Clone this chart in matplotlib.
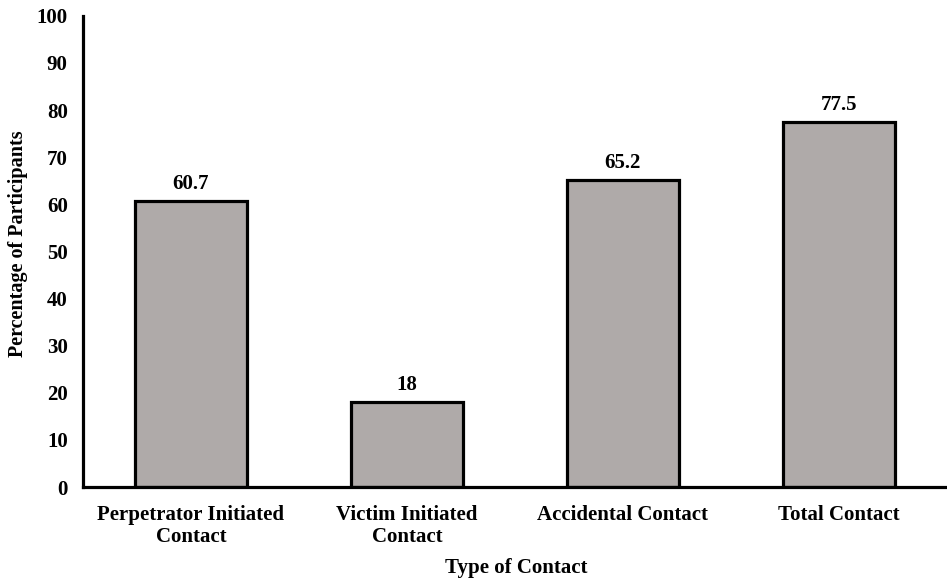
import matplotlib
matplotlib.use("Agg")
import matplotlib.pyplot as plt

categories = ["Perpetrator Initiated\nContact", "Victim Initiated\nContact", "Accidental Contact", "Total Contact"]
values = [60.7, 18, 65.2, 77.5]
value_labels = ["60.7", "18", "65.2", "77.5"]
yticks = [0, 10, 20, 30, 40, 50, 60, 70, 80, 90, 100]

plt.rcParams['font.family'] = ['Liberation Serif', 'DejaVu Serif']
plt.rcParams['font.weight'] = 'bold'

FS = 15
W, H = 947, 584

fig = plt.figure(figsize=(W / 100, H / 100), dpi=100)
ax = fig.add_axes([0.0876, 0.166, 0.912, 0.807])

x = list(range(len(categories)))
ax.bar(x, values, width=0.52, color="#AFAAA9", edgecolor="black", linewidth=2.3, zorder=2)
for xi, v, lab in zip(x, values, value_labels):
    ax.text(xi, v + 1.5, lab, ha="center", va="bottom", fontsize=FS, fontweight="bold")

ax.set_xlim(-0.5, 3.5)
ax.set_ylim(0, 100)
ax.set_yticks(yticks)
ax.set_xticks(x)
ax.set_xticklabels(categories, fontsize=FS, fontweight="bold", linespacing=1.1)
ax.tick_params(axis="y", length=0, pad=11, labelsize=FS)
ax.tick_params(axis="x", length=0, pad=13)
for t in ax.get_yticklabels():
    t.set_fontweight("bold")

for s in ["top", "right"]:
    ax.spines[s].set_visible(False)
for s in ["left", "bottom"]:
    ax.spines[s].set_linewidth(2.3)
    ax.spines[s].set_zorder(3)

fig.text(18 / W, 1 - 244 / H, "Percentage of Participants", rotation=90, ha="center", va="center",
         fontsize=14.5, fontweight="bold")
fig.text(516 / W, 1 - 568 / H, "Type of Contact", ha="center", va="center",
         fontsize=FS, fontweight="bold")

fig.savefig("out.png", dpi=100)
